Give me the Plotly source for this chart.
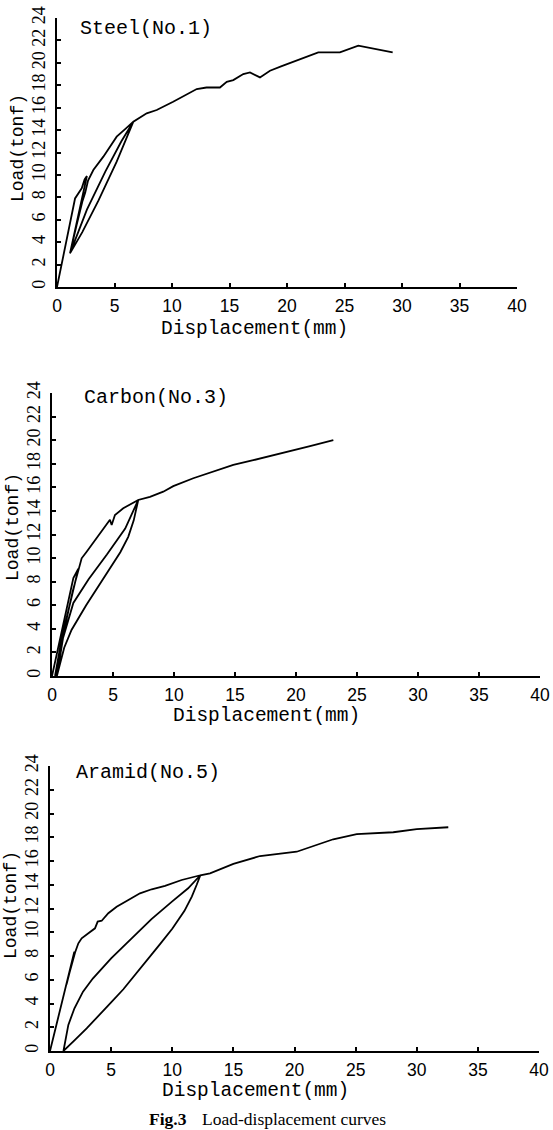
import plotly.graph_objects as go

# ---------------- data ----------------
x_ticks = [0, 5, 10, 15, 20, 25, 30, 35, 40]
y_ticks = [0, 2, 4, 6, 8, 10, 12, 14, 16, 18, 20, 22, 24]

steel_disp = [0, 0.8, 1.57, 2.15, 2.4, 2.6, 1.9, 1.13, 1.7, 2.2, 2.45, 2.7, 3.16, 4.03,
              4.61, 5.19, 6.0, 6.64, 5.2, 3.6, 2.2, 1.13, 2.6, 4.2, 5.6, 6.64, 7.8, 8.67,
              10.1, 11.28, 12.15, 13.0, 14.17, 14.76, 15.33, 16.2, 16.78, 17.65, 18.52,
              19.54, 20.55, 22.72, 24.6, 26.2, 29.19]
steel_load = [0, 4.0, 7.9, 8.8, 9.6, 9.9, 6.6, 3.0, 5.5, 7.6, 8.4, 9.5, 10.44, 11.63,
              12.52, 13.41, 14.15, 14.75, 11.2, 7.7, 4.9, 3.0, 6.9, 10.3, 13.0, 14.75, 15.5,
              15.79, 16.53, 17.22, 17.66, 17.8, 17.8, 18.31, 18.46, 19.0, 19.15, 18.7, 19.3,
              19.7, 20.1, 20.94, 20.94, 21.53, 20.94]

carbon_disp = [0, 0.9, 1.75, 2.16, 1.5, 0.8, 0.25, 1.0, 1.7, 2.1, 2.43, 2.84, 3.66, 4.2,
               4.62, 4.75, 4.89, 5.16, 5.84, 6.53, 7.07, 6.7, 6.25, 5.6, 4.2, 2.8, 1.6,
               1.0, 0.4, 0.9, 1.75, 3.0, 4.5, 6.0, 7.07, 8.03, 9.12, 9.94, 11.58, 13.22,
               14.86, 16.5, 18.69, 19.5, 21.15, 23.06]
carbon_load = [0, 4.3, 8.3, 9.1, 6.3, 3.2, 0, 3.9, 7.2, 8.8, 9.98, 10.54, 11.68, 12.44,
               13.09, 13.25, 12.8, 13.66, 14.22, 14.65, 14.93, 13.2, 11.8, 10.5, 8.2, 6.0,
               3.9, 2.4, 0, 3.2, 6.2, 8.2, 10.3, 12.5, 14.93, 15.2, 15.63, 16.1, 16.77,
               17.33, 17.9, 18.3, 18.89, 19.1, 19.5, 20.0]

aramid_disp = [0, 1.0, 1.99, 1.35, 1.6, 2.05, 2.32, 2.59, 3.14, 3.68, 3.9, 4.23, 4.77,
               5.45, 6.41, 7.36, 8.32, 9.41, 10.77, 11.59, 12.3, 12.0, 11.6, 11.0, 10.0,
               9.0, 8.0, 7.0, 6.0, 5.0, 4.0, 3.0, 2.0, 1.1, 1.5, 2.0, 2.7, 3.5, 5.0, 6.7,
               8.3, 10.0, 11.3, 12.3, 13.09, 15.0, 17.18, 20.18, 23.17, 25.09, 28.08,
               30.0, 32.58]
aramid_load = [0, 4.3, 8.36, 5.6, 6.6, 8.3, 9.07, 9.49, 9.91, 10.33, 10.9, 10.97, 11.6,
               12.15, 12.72, 13.28, 13.62, 13.9, 14.4, 14.6, 14.8, 14.0, 13.0, 11.8, 10.3,
               9.0, 7.7, 6.4, 5.2, 4.1, 3.0, 1.9, 0.9, 0, 2.2, 3.6, 5.0, 6.1, 7.8, 9.5,
               11.1, 12.6, 13.7, 14.8, 14.96, 15.75, 16.42, 16.78, 17.83, 18.27, 18.42,
               18.69, 18.84]

panel_titles = ["Steel(No.1)", "Carbon(No.3)", "Aramid(No.5)"]
x_title = "Displacement(mm)"
y_title = "Load(tonf)"
caption_bold = "Fig.3"
caption_text = "Load-displacement curves"

# ---------------- layout helpers ----------------
W, H = 553, 1130
MONO = "Liberation Mono, Courier New, monospace"
SERIF = "Liberation Serif, Times New Roman, serif"
NARROW = "Liberation Sans Narrow, Liberation Sans, Arial, sans-serif"


def px(x):
    return x / W


def py(y):
    return 1 - y / H


# plot boxes in pixels: (left, right, bottom(y=0), top(y=24))
boxes = [(57, 517, 287, 18), (52, 540, 676, 393), (50, 539, 1051, 766)]
# annotation pixel positions
title_pos = [(146, 29), (156, 398), (148, 772)]
xtitle_pos = [(254, 329), (266, 716), (255, 1091)]
ytitle_pos = [(18, 148), (13, 527), (11, 905)]

series = [(steel_disp, steel_load), (carbon_disp, carbon_load), (aramid_disp, aramid_load)]

fig = go.Figure()
layout = dict(
    width=W, height=H, autosize=False,
    margin=dict(l=0, r=0, t=0, b=0, pad=0),
    paper_bgcolor="white", plot_bgcolor="white",
    showlegend=False,
    annotations=[],
)

for i, ((xs, ys), (l, r, b, t)) in enumerate(zip(series, boxes)):
    sfx = "" if i == 0 else str(i + 1)
    fig.add_trace(go.Scatter(
        x=xs, y=ys, mode="lines",
        line=dict(color="black", width=1.8),
        xaxis="x" + sfx, yaxis="y" + sfx, hoverinfo="skip",
    ))
    layout["xaxis" + sfx] = dict(
        domain=[px(l), px(r)], anchor="y" + sfx, range=[0, 40],
        tickmode="array", tickvals=x_ticks, ticktext=[str(v) for v in x_ticks],
        showline=True, linecolor="black", linewidth=2,
        ticks="inside", ticklen=4, tickwidth=1.5, tickcolor="black",
        showgrid=False, zeroline=False, automargin=False,
        tickfont=dict(family=NARROW, size=17.5, color="black"),
        ticklabelstandoff=2,
    )
    layout["yaxis" + sfx] = dict(
        domain=[py(b), py(t)], anchor="x" + sfx, range=[0, 24],
        tickmode="array", tickvals=y_ticks, ticktext=[str(v) for v in y_ticks],
        showline=True, linecolor="black", linewidth=2,
        ticks="inside", ticklen=4, tickwidth=1.5, tickcolor="black",
        showgrid=False, zeroline=False, tickangle=-90, automargin=False,
        tickfont=dict(family=SERIF, size=18, color="black"),
        ticklabelstandoff=3,
    )
    tx, ty = title_pos[i]
    layout["annotations"].append(dict(
        text=panel_titles[i], x=px(tx), y=py(ty), xref="paper", yref="paper",
        showarrow=False, xanchor="center", yanchor="middle",
        font=dict(family=MONO, size=20, color="black")))
    ax_, ay_ = xtitle_pos[i]
    layout["annotations"].append(dict(
        text=x_title, x=px(ax_), y=py(ay_), xref="paper", yref="paper",
        showarrow=False, xanchor="center", yanchor="middle",
        font=dict(family=MONO, size=19.5, color="black")))
    bx, by = ytitle_pos[i]
    layout["annotations"].append(dict(
        text=y_title, x=px(bx), y=py(by), xref="paper", yref="paper",
        showarrow=False, xanchor="center", yanchor="middle", textangle=-90,
        font=dict(family=MONO, size=18, color="black")))

layout["annotations"].append(dict(
    text="<b>" + caption_bold + "</b>", x=px(189), y=py(1119), xref="paper", yref="paper",
    showarrow=False, xanchor="right", yanchor="middle",
    font=dict(family=SERIF, size=17.5, color="black")))
layout["annotations"].append(dict(
    text=caption_text, x=px(200), y=py(1119), xref="paper", yref="paper",
    showarrow=False, xanchor="left", yanchor="middle",
    font=dict(family=SERIF, size=17.5, color="black")))

fig.update_layout(**layout)
fig.write_html(
    "out.html",
    config={"responsive": False, "displayModeBar": False},
    post_script="document.body.style.margin='0';document.body.style.overflow='hidden';",
)
